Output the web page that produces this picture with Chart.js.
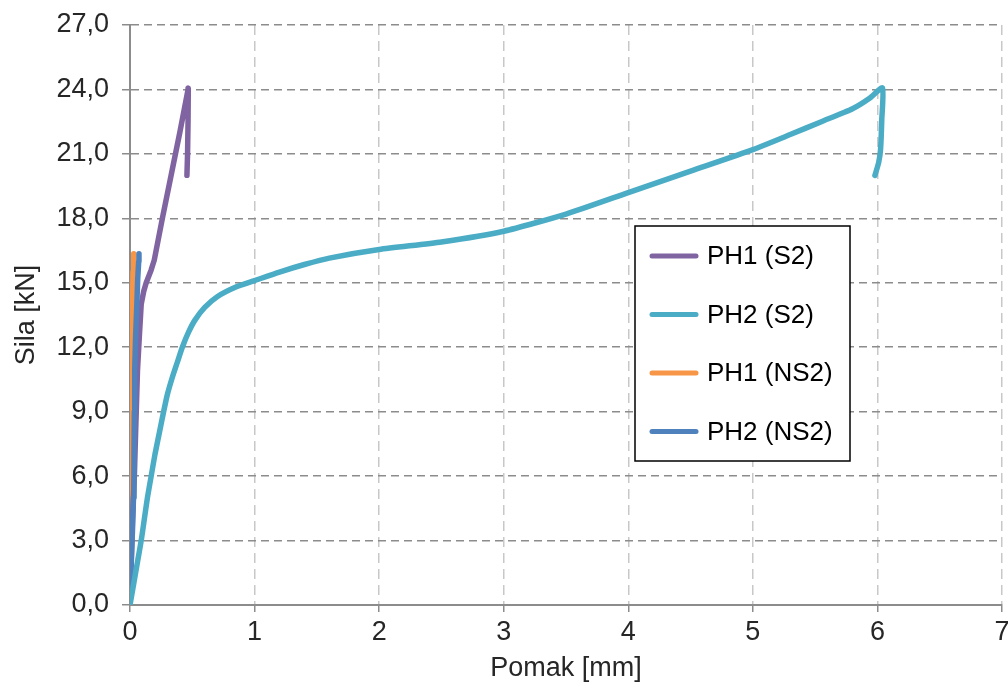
<!DOCTYPE html>
<html>
<head>
<meta charset="utf-8">
<script src="https://cdn.jsdelivr.net/npm/chart.js@4/dist/chart.umd.min.js"></script>
<style>
  html, body { margin: 0; padding: 0; background: #fff; }
  #wrap { width: 1008px; height: 682px; }
</style>
</head>
<body>
<div id="wrap"><canvas id="c" width="1008" height="682"></canvas></div>
<script>
// Force-displacement curves, displacement in mm, force in kN
const seriesLabels = ['PH1 (S2)', 'PH2 (S2)', 'PH1 (NS2)', 'PH2 (NS2)'];
const seriesColors = ['#8064A2', '#4BACC6', '#F79646', '#4F81BD'];

const ph1S2_x = [0.0, 0.01, 0.02, 0.035, 0.045, 0.06, 0.075, 0.09, 0.11, 0.13, 0.17, 0.195, 0.26, 0.33, 0.40, 0.468, 0.466, 0.462, 0.457];
const ph1S2_y = [0.3, 2.0, 4.0, 6.0, 8.0, 10.9, 12.5, 14.0, 14.6, 15.0, 15.6, 16.06, 18.0, 20.0, 22.0, 24.06, 22.5, 21.0, 20.0];

const ph2S2_x = [0.0, 0.03, 0.06, 0.09, 0.115, 0.14, 0.17, 0.20, 0.235, 0.27, 0.30, 0.34, 0.38, 0.42, 0.47, 0.52, 0.60, 0.70, 0.85, 1.0, 1.2, 1.4, 1.6, 2.0, 2.5, 3.0, 3.5, 4.0, 4.5, 5.0, 5.3, 5.55, 5.8, 5.94, 6.04, 6.035, 6.025, 6.01, 5.98];
const ph2S2_y = [0.0, 1.0, 2.0, 3.0, 4.0, 5.0, 6.0, 7.0, 8.0, 9.0, 9.8, 10.6, 11.3, 12.0, 12.7, 13.25, 13.85, 14.35, 14.8, 15.1, 15.5, 15.85, 16.15, 16.55, 16.9, 17.4, 18.2, 19.2, 20.2, 21.2, 21.9, 22.5, 23.1, 23.6, 24.07, 22.6, 21.2, 20.6, 20.0];

const ph1NS2_x = [0.0, 0.0, 0.0, 0.005, 0.01, 0.015, 0.02, 0.025, 0.03];
const ph1NS2_y = [0.5, 4.0, 6.0, 8.0, 10.0, 12.0, 14.0, 15.5, 16.35];

const ph2NS2_x = [0.005, 0.01, 0.02, 0.028, 0.032, 0.035, 0.038, 0.045, 0.055, 0.062, 0.07, 0.072];
const ph2NS2_y = [0.8, 2.0, 3.5, 5.0, 7.0, 9.0, 11.0, 12.5, 14.0, 15.2, 16.0, 16.35];

const xTicks = [0, 1, 2, 3, 4, 5, 6, 7];
const yTicks = [0, 3, 6, 9, 12, 15, 18, 21, 24, 27];

const xs = [ph1S2_x, ph2S2_x, ph1NS2_x, ph2NS2_x];
const ys = [ph1S2_y, ph2S2_y, ph1NS2_y, ph2NS2_y];
// drawing stack: lower number is painted on top
const drawOrder = [2, 0, 3, 1];
const curveTension = [0, 0.2, 0, 0];

const FONT = '"Liberation Sans", Arial, sans-serif';

const datasets = seriesLabels.map((lab, i) => ({
  label: lab,
  data: xs[i].map((x, k) => ({ x: x, y: ys[i][k] })),
  borderColor: seriesColors[i],
  backgroundColor: seriesColors[i],
  borderWidth: 5.5,
  pointRadius: 0,
  tension: curveTension[i],
  fill: false,
  showLine: true,
  borderCapStyle: 'round',
  borderJoinStyle: 'round',
  order: drawOrder[i]
}));

// Boxed legend inside the plot area
const boxedLegend = {
  id: 'boxedLegend',
  afterDatasetsDraw(chart) {
    const ctx = chart.ctx;
    const bx = 635, by = 226, bw = 215, bh = 235;
    ctx.save();
    ctx.fillStyle = '#ffffff';
    ctx.fillRect(bx, by, bw, bh);
    ctx.lineWidth = 1.5;
    ctx.strokeStyle = '#000000';
    ctx.strokeRect(bx, by, bw, bh);
    ctx.font = '26px ' + FONT;
    ctx.textBaseline = 'middle';
    ctx.textAlign = 'left';
    chart.data.datasets.forEach((ds, i) => {
      const cy = by + 30 + i * 58.5;
      ctx.beginPath();
      ctx.lineWidth = 5;
      ctx.lineCap = 'round';
      ctx.strokeStyle = ds.borderColor;
      ctx.moveTo(bx + 17, cy);
      ctx.lineTo(bx + 61, cy);
      ctx.stroke();
      ctx.fillStyle = '#000000';
      ctx.fillText(ds.label, bx + 72, cy + 1);
    });
    ctx.restore();
  }
};

new Chart(document.getElementById('c'), {
  type: 'scatter',
  data: { datasets: datasets },
  plugins: [boxedLegend],
  options: {
    responsive: false,
    animation: false,
    layout: { padding: { left: 0, right: 6, top: 25, bottom: 0 } },
    plugins: {
      legend: { display: false },
      tooltip: { enabled: false }
    },
    scales: {
      x: {
        type: 'linear',
        min: 0, max: 7,
        afterBuildTicks: (s) => { s.ticks = xTicks.map(v => ({ value: v })); },
        afterFit: (s) => { s.height = 77; s.paddingRight = 0; s.paddingLeft = 0; },
        ticks: {
          color: '#262626',
          font: { family: FONT, size: 27 },
          padding: 4,
          maxRotation: 0,
          callback: (v) => String(v)
        },
        grid: {
          color: '#c8c8c8',
          lineWidth: 1.5,
          tickColor: '#8c8c8c',
          tickLength: 7,
          tickWidth: 1.5
        },
        border: { display: true, color: '#8c8c8c', width: 2, dash: [10, 6] },
        title: {
          display: true,
          text: 'Pomak [mm]',
          color: '#262626',
          font: { family: FONT, size: 27 },
          padding: { top: 0, bottom: -3 }
        }
      },
      y: {
        type: 'linear',
        min: 0, max: 27,
        afterBuildTicks: (s) => { s.ticks = yTicks.map(v => ({ value: v })); },
        afterFit: (s) => { s.width = 130; s.paddingTop = 0; s.paddingBottom = 0; },
        ticks: {
          color: '#262626',
          font: { family: FONT, size: 27 },
          padding: 13,
          callback: (v) => v.toFixed(1).replace('.', ',')
        },
        grid: {
          color: '#8c8c8c',
          lineWidth: 1.5,
          tickColor: '#8c8c8c',
          tickLength: 8,
          tickWidth: 1.5
        },
        border: { display: true, color: '#8c8c8c', width: 2, dash: [8, 5] },
        title: {
          display: true,
          text: 'Sila [kN]',
          color: '#262626',
          font: { family: FONT, size: 27 },
          padding: { top: 10, bottom: 0 }
        }
      }
    }
  }
});
</script>
</body>
</html>
